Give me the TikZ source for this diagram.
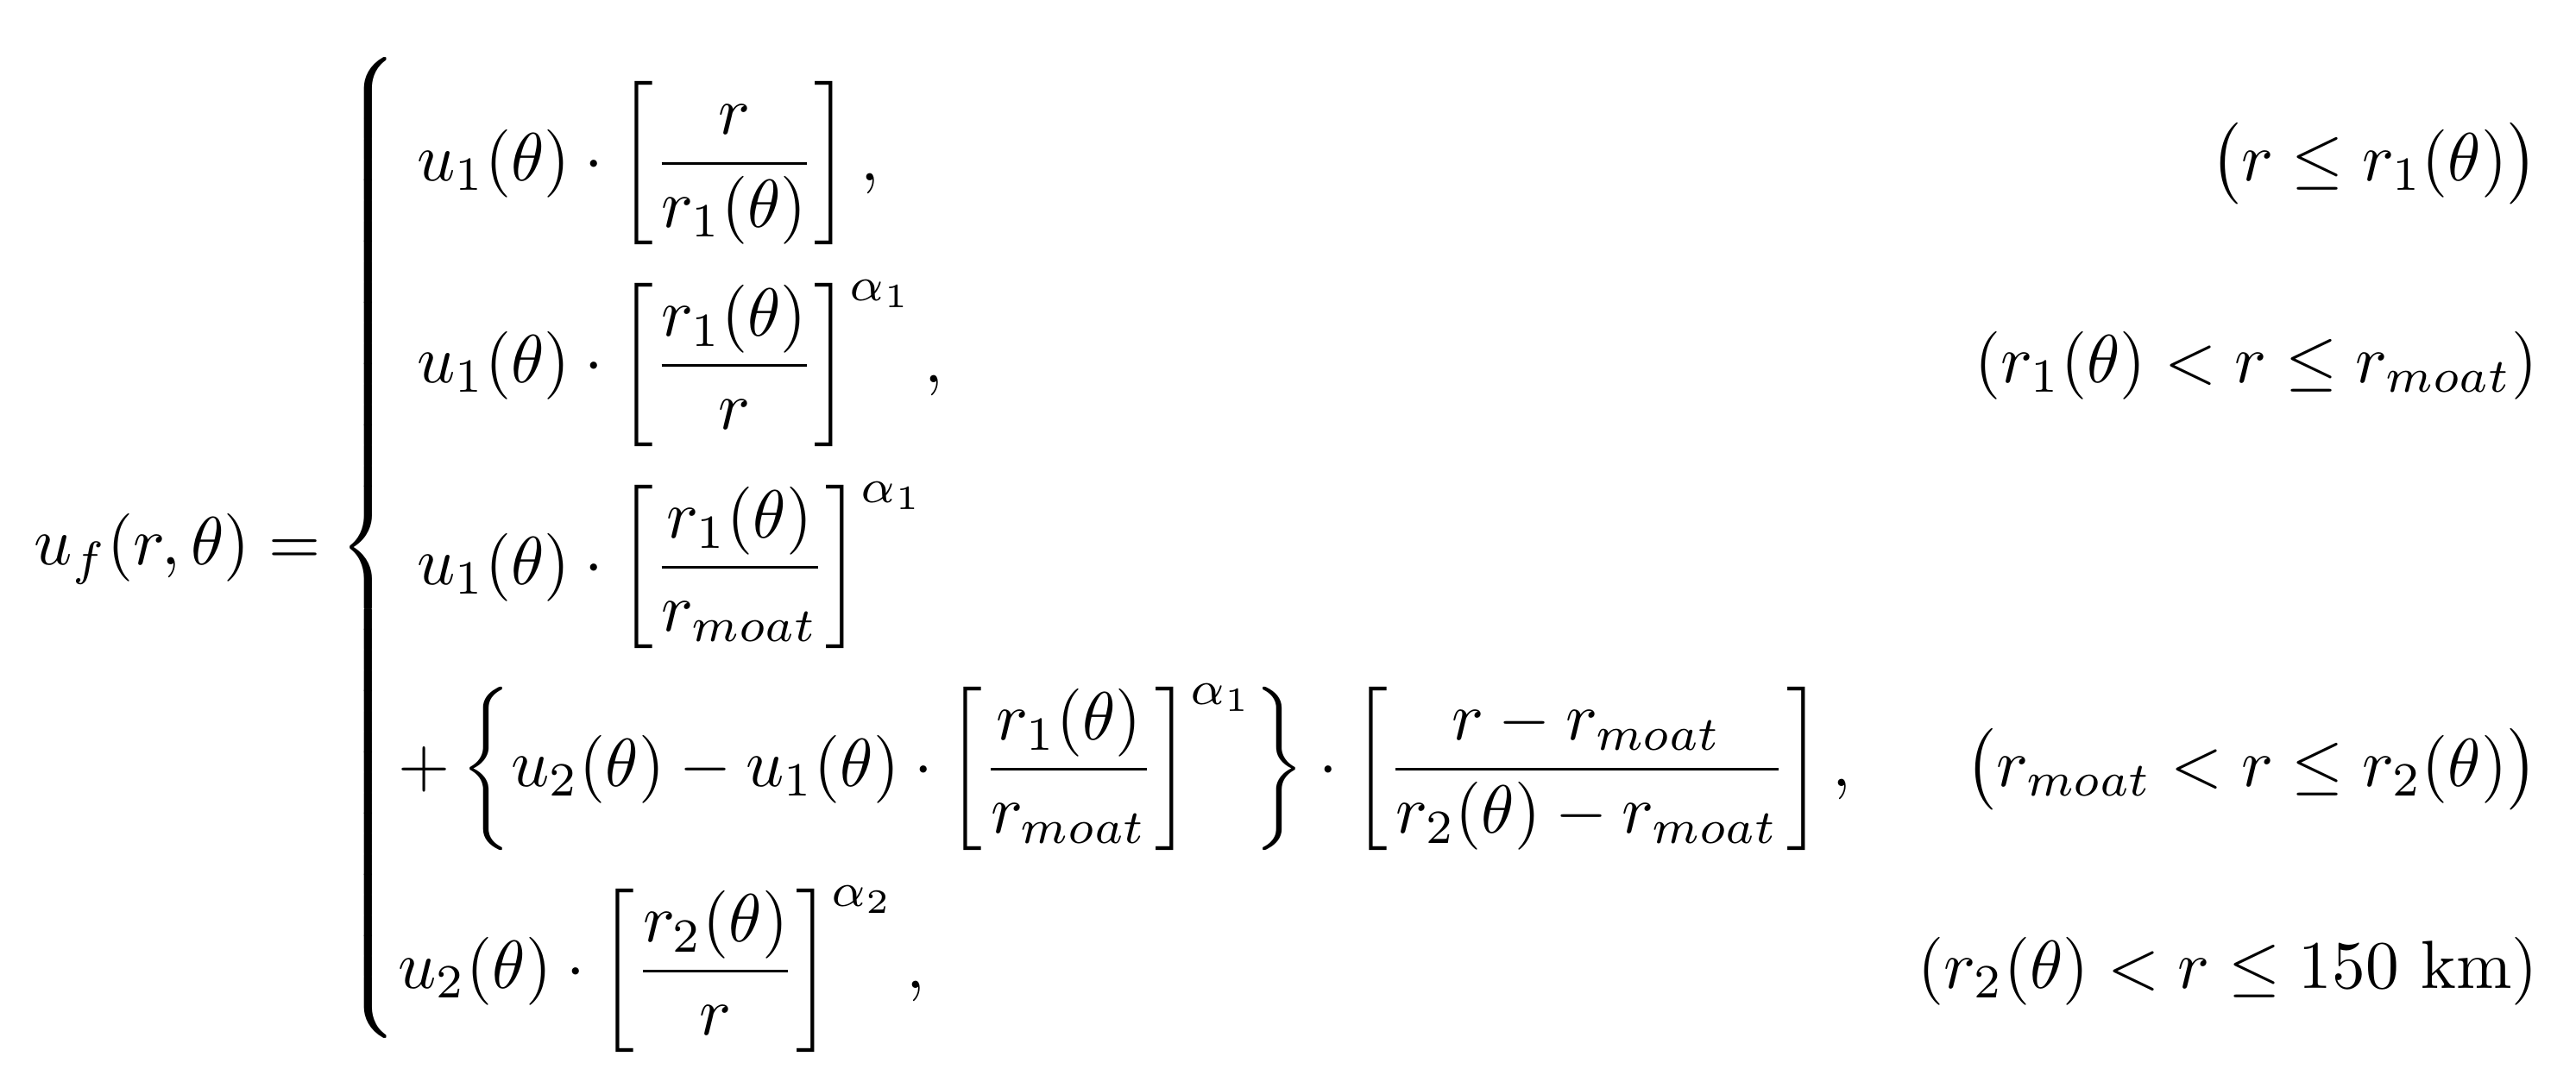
\documentclass[tikz,border=0pt]{standalone}
\usepackage{amsmath,amssymb}
\usepackage{graphicx}
\begin{document}
\begin{tikzpicture}
\useasboundingbox (0,0) rectangle (29.85,12.6);
\node[inner sep=0pt] (eq) at (14.95,6.25) {\resizebox*{29.1cm}{11.7cm}{$\displaystyle
u_f(r,\theta)=\left\{\renewcommand{\arraystretch}{2.4}
\begin{array}{@{}l@{\quad}r@{}}
\;u_1(\theta)\cdot\left[\dfrac{r}{r_1(\theta)}\right], & \bigl(r\le r_1(\theta)\bigr)\\
\;u_1(\theta)\cdot\left[\dfrac{r_1(\theta)}{r}\right]^{\alpha_1}, & (r_1(\theta)<r\le r_{moat})\\
\;u_1(\theta)\cdot\left[\dfrac{r_1(\theta)}{r_{moat}}\right]^{\alpha_1} & \\
+\left\{u_2(\theta)-u_1(\theta)\cdot\left[\dfrac{r_1(\theta)}{r_{moat}}\right]^{\alpha_1}\right\}\cdot\left[\dfrac{r-r_{moat}}{r_2(\theta)-r_{moat}}\right], & \bigl(r_{moat}<r\le r_2(\theta)\bigr)\\
u_2(\theta)\cdot\left[\dfrac{r_2(\theta)}{r}\right]^{\alpha_2}, & (r_2(\theta)<r\le 150\ \mathrm{km})
\end{array}\right.$}};
\end{tikzpicture}
\end{document}
